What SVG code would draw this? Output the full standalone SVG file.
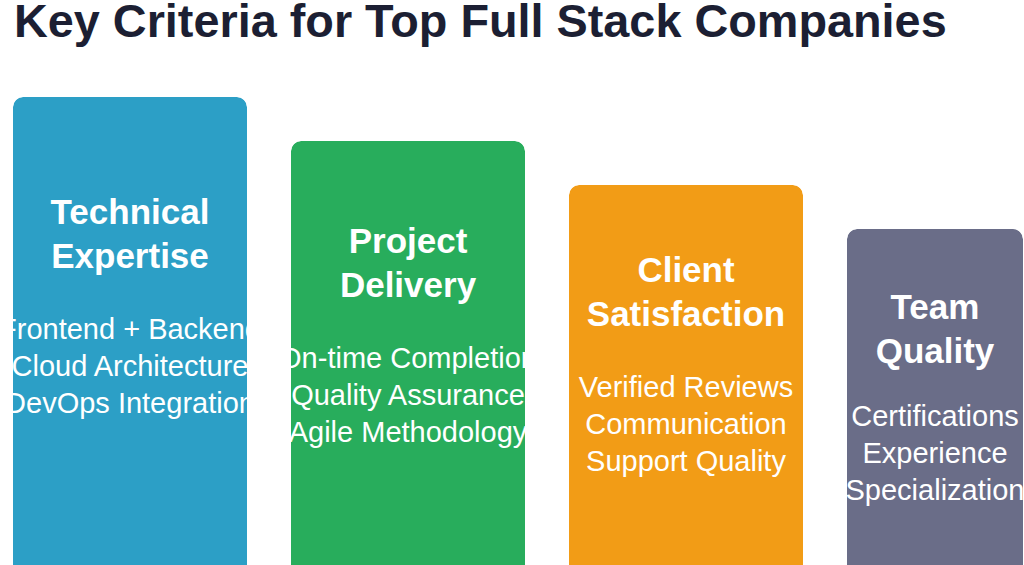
<svg xmlns="http://www.w3.org/2000/svg" width="1024" height="565" viewBox="0 0 1024 565">
<style>
.t{font-family:"Liberation Sans",Arial,sans-serif;font-weight:bold;font-size:46.8px;fill:#1c1f33}
.h{font-family:"Liberation Sans",Arial,sans-serif;font-weight:bold;font-size:35px;fill:#fff;text-anchor:middle}
.i{font-family:"Liberation Sans",Arial,sans-serif;font-size:29px;fill:#fff;text-anchor:middle}
</style>
<defs>
<clipPath id="c1"><rect x="13" y="97" width="234" height="500" rx="10"/></clipPath>
<clipPath id="c2"><rect x="291" y="141" width="234" height="500" rx="10"/></clipPath>
<clipPath id="c3"><rect x="569" y="185" width="234" height="500" rx="10"/></clipPath>
<clipPath id="c4"><rect x="847" y="229" width="176" height="500" rx="10"/></clipPath>
</defs>
<rect width="1024" height="565" fill="#fff"/>
<text class="t" x="14" y="37">Key Criteria for Top Full Stack Companies</text>
<g id="node1" clip-path="url(#c1)">
<rect x="13" y="97" width="234" height="500" rx="10" fill="#2c9fc6"/>
<text class="h" x="130" y="224">Technical</text><text class="h" x="130" y="268">Expertise</text>
<text class="i" x="130" y="339">Frontend + Backend</text><text class="i" x="130" y="376">Cloud Architecture</text><text class="i" x="130" y="413">DevOps Integration</text>
</g>
<g id="node2" clip-path="url(#c2)">
<rect x="291" y="141" width="234" height="500" rx="10" fill="#28ad5c"/>
<text class="h" x="408" y="253">Project</text><text class="h" x="408" y="297">Delivery</text>
<text class="i" x="408" y="368">On-time Completion</text><text class="i" x="408" y="405">Quality Assurance</text><text class="i" x="408" y="442">Agile Methodology</text>
</g>
<g id="node3" clip-path="url(#c3)">
<rect x="569" y="185" width="234" height="500" rx="10" fill="#f29c16"/>
<text class="h" x="686" y="282">Client</text><text class="h" x="686" y="326">Satisfaction</text>
<text class="i" x="686" y="397">Verified Reviews</text><text class="i" x="686" y="434">Communication</text><text class="i" x="686" y="471">Support Quality</text>
</g>
<g id="node4" clip-path="url(#c4)">
<rect x="847" y="229" width="176" height="500" rx="10" fill="#6a6d88"/>
<text class="h" x="935" y="319">Team</text><text class="h" x="935" y="363">Quality</text>
<text class="i" x="935" y="426">Certifications</text><text class="i" x="935" y="463">Experience</text><text class="i" x="935" y="500">Specialization</text>
</g>
<g id="connectors"/>
</svg>
